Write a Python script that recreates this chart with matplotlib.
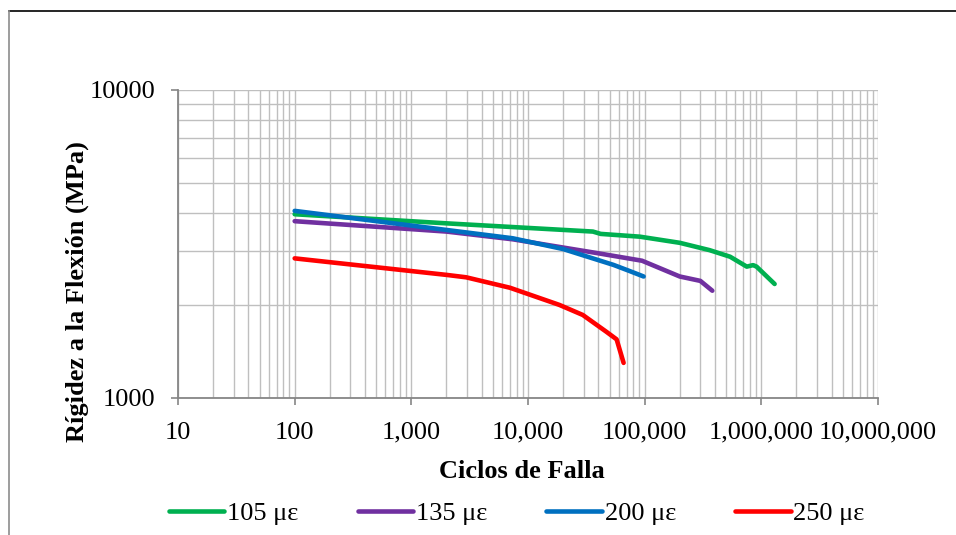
import matplotlib
matplotlib.use("Agg")
import matplotlib.pyplot as plt
from matplotlib.lines import Line2D
from matplotlib.ticker import FixedLocator, FuncFormatter, LogLocator, NullFormatter

plt.rcParams['font.family'] = ['Liberation Serif', 'DejaVu Serif']

# Ciclos de falla vs rigidez (MPa) for each strain level
ciclos_105 = [100, 2000, 36000, 42000, 91000, 200000, 360000, 540000, 750000, 850000, 910000, 1300000]
rigidez_105 = [3950, 3690, 3470, 3410, 3340, 3190, 3020, 2875, 2670, 2700, 2670, 2345]

ciclos_135 = [100, 2000, 7400, 40000, 95000, 200000, 300000, 380000]
rigidez_135 = [3750, 3470, 3275, 2950, 2790, 2480, 2400, 2230]

ciclos_200 = [100, 7400, 20000, 54000, 74000, 98000]
rigidez_200 = [4050, 3300, 3045, 2705, 2585, 2480]

ciclos_250 = [100, 2000, 2950, 7000, 18600, 29500, 47000, 57500, 66000]
rigidez_250 = [2840, 2510, 2465, 2280, 2005, 1860, 1640, 1550, 1300]

series = [
    ("105 \u03bc\u03b5", ciclos_105, rigidez_105, "#00b050"),
    ("135 \u03bc\u03b5", ciclos_135, rigidez_135, "#7030a0"),
    ("200 \u03bc\u03b5", ciclos_200, rigidez_200, "#0070c0"),
    ("250 \u03bc\u03b5", ciclos_250, rigidez_250, "#ff0000"),
]

fig = plt.figure(figsize=(9.56, 5.35), dpi=100)
ax = fig.add_axes([0.1862, 0.2561, 0.7322, 0.5757])

for label, x, y, color in series:
    ax.plot(x, y, color=color, lw=3.3, label=label, solid_capstyle='round', zorder=3)

ax.set_xscale('log')
ax.set_yscale('log')
ax.set_xlim(10, 1e7)
ax.set_ylim(1000, 10000)

ax.xaxis.set_major_locator(LogLocator(base=10, numticks=10))
ax.xaxis.set_minor_locator(LogLocator(base=10, subs=range(2, 10), numticks=100))
ax.xaxis.set_major_formatter(FuncFormatter(lambda v, p: f"{int(round(v)):,}"))
ax.xaxis.set_minor_formatter(NullFormatter())
ax.yaxis.set_major_locator(FixedLocator([1000, 10000]))
ax.yaxis.set_minor_locator(FixedLocator([2000, 3000, 4000, 5000, 6000, 7000, 8000, 9000]))
ax.yaxis.set_major_formatter(FuncFormatter(lambda v, p: f"{int(round(v))}"))
ax.yaxis.set_minor_formatter(NullFormatter())

ax.grid(True, which='both', color='#bfbfbf', lw=1.0, zorder=0)
ax.set_axisbelow(True)
for side in ['top', 'right']:
    ax.spines[side].set_visible(False)
for side in ['left', 'bottom']:
    ax.spines[side].set_color('#868686')
    ax.spines[side].set_linewidth(1.3)

ax.tick_params(which='major', direction='out', length=5, width=1.2, color='#868686',
               labelsize=19)
ax.tick_params(axis='x', which='major', pad=12)
ax.tick_params(axis='y', which='major', pad=11)
ax.tick_params(which='minor', length=0)

ax.set_xlabel('Ciclos de Falla', fontsize=19, fontweight='bold')
ax.set_ylabel('Rígidez a la Flexión (MPa)', fontsize=19, fontweight='bold')
ax.xaxis.set_label_coords(0.491, -0.201)
ax.yaxis.set_label_coords(-0.127, 0.347)

ax.legend(loc='center', bbox_to_anchor=(0.484, -0.375), ncol=4, frameon=False,
          fontsize=19, handlelength=2.1, handletextpad=0.1, columnspacing=2.25)

# chart frame
fig.add_artist(Line2D([0.0094, 1.0], [0.9794, 0.9794], color='black', lw=1.2))
fig.add_artist(Line2D([0.0094, 0.0094], [0.0, 0.9794], color='#8c8c8c', lw=1.2))

fig.savefig('out.png', dpi=100)
